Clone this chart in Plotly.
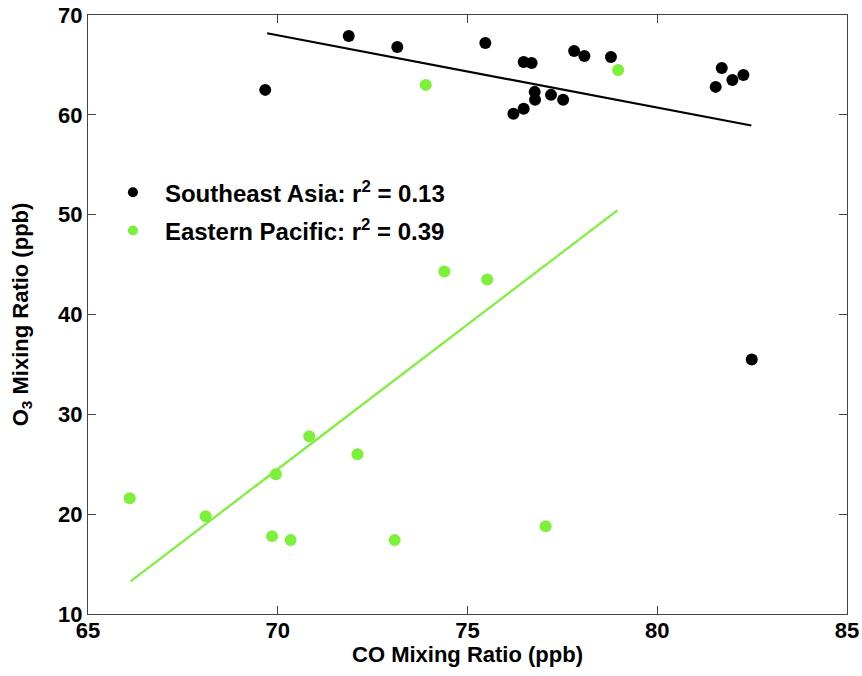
import plotly.graph_objects as go

# Southeast Asia (black)
sea_co = [69.67, 71.87, 73.15, 75.47, 76.48, 76.69, 76.77, 76.78, 77.20, 77.52,
          76.48, 76.21, 77.81, 78.08, 78.78, 81.70, 81.54, 81.98, 82.27, 82.49]
sea_o3 = [62.5, 67.9, 66.8, 67.2, 65.3, 65.2, 62.3, 61.5, 62.0, 61.5,
          60.6, 60.1, 66.4, 65.9, 65.8, 64.7, 62.8, 63.5, 64.0, 35.5]

# Eastern Pacific (green)
ep_co = [73.90, 78.97, 74.39, 75.52, 66.10, 68.10, 69.85, 69.95, 70.34, 70.83,
         72.10, 73.08, 77.06]
ep_o3 = [63.0, 64.5, 44.3, 43.5, 21.6, 19.8, 17.8, 24.0, 17.4, 27.8,
         26.0, 17.4, 18.8]

# fit lines (endpoints)
sea_fit_co = [69.72, 82.48]
sea_fit_o3 = [68.17, 58.93]
ep_fit_co = [66.12, 78.95]
ep_fit_o3 = [13.27, 50.43]

legend_labels = ["Southeast Asia: r<sup>2</sup> = 0.13",
                 "Eastern Pacific: r<sup>2</sup> = 0.39"]

x_ticks = [65, 70, 75, 80, 85]
y_ticks = [10, 20, 30, 40, 50, 60, 70]

BLACK = "#000000"
GREEN = "#7DF03A"
FONT = "Liberation Sans, Arial, Helvetica, sans-serif"

fig = go.Figure()

fig.add_trace(go.Scatter(x=sea_fit_co, y=sea_fit_o3, mode="lines",
                         line=dict(color=BLACK, width=2.2), showlegend=False))
fig.add_trace(go.Scatter(x=ep_fit_co, y=ep_fit_o3, mode="lines",
                         line=dict(color=GREEN, width=2.2), showlegend=False))
fig.add_trace(go.Scatter(x=sea_co, y=sea_o3, mode="markers",
                         marker=dict(color=BLACK, size=12), showlegend=False))
fig.add_trace(go.Scatter(x=ep_co, y=ep_o3, mode="markers",
                         marker=dict(color=GREEN, size=12), showlegend=False))

# legend entries
fig.add_trace(go.Scatter(x=[None], y=[None], mode="markers", name=legend_labels[0],
                         marker=dict(color=BLACK, size=10), legendgroup="a"))
fig.add_trace(go.Scatter(x=[None], y=[None], mode="markers", name=legend_labels[1],
                         marker=dict(color=GREEN, size=10), legendgroup="b"))

axis_common = dict(
    showgrid=False, zeroline=False, showline=True, linecolor="#444444", linewidth=1.2,
    mirror="ticks", ticks="inside", ticklen=8, tickcolor="#444444", tickwidth=1,
    automargin=False, ticklabeloverflow="allow",
    tickfont=dict(family=FONT, size=22, color="black", weight="bold"),
)

fig.update_layout(
    width=862, height=676,
    margin=dict(l=88, r=15, t=15, b=62),
    paper_bgcolor="white", plot_bgcolor="white",
    font=dict(family=FONT, color="black"),
    xaxis=dict(range=[65, 85], tickvals=x_ticks, ticklabelstandoff=-4,
               title=dict(text="CO Mixing Ratio (ppb)", standoff=0,
                          font=dict(family=FONT, size=22, color="black", weight="bold")),
               **axis_common),
    yaxis=dict(range=[10, 70], tickvals=y_ticks, ticklabelstandoff=0,
               title=dict(text="O<sub>3</sub> Mixing Ratio (ppb)", standoff=23,
                          font=dict(family=FONT, size=22, color="black", weight="bold")),
               **axis_common),
    legend=dict(x=0.017, y=0.741, xanchor="left", yanchor="top",
                bgcolor="rgba(0,0,0,0)", traceorder="grouped", tracegroupgap=4,
                itemwidth=54,
                font=dict(family=FONT, size=24, color="black", weight="bold")),
)

fig.write_html("out.html",
               config={"displayModeBar": False},
               post_script="document.body.style.margin='0';document.body.style.overflow='hidden';")
